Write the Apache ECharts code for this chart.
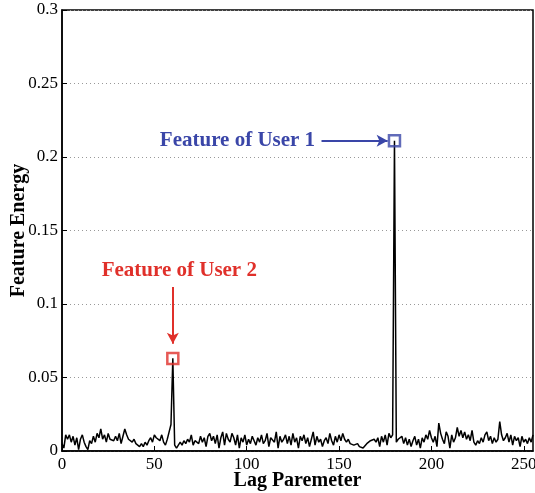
<!DOCTYPE html>
<html>
<head>
<meta charset="utf-8">
<script src="https://cdn.jsdelivr.net/npm/echarts@6/dist/echarts.min.js"></script>
<style>
  html, body { margin: 0; padding: 0; background: #fff; }
  #chart { width: 535px; height: 493px; }
</style>
</head>
<body>
<div id="chart"></div>
<script>
// feature energy per lag (lag 0..255)
const energy = [
  0.005, 0.002, 0.011, 0.008, 0.011, 0.006, 0.010, 0.004, 0.009, 0.001,
  0.008, 0.011, 0.006, 0.003, 0.001, 0.007, 0.005, 0.010, 0.006, 0.012,
  0.009, 0.015, 0.008, 0.011, 0.006, 0.012, 0.008, 0.009, 0.007, 0.010,
  0.007, 0.012, 0.005, 0.010, 0.015, 0.011, 0.008, 0.009, 0.006, 0.008,
  0.005, 0.004, 0.003, 0.005, 0.003, 0.006, 0.004, 0.007, 0.009, 0.006,
  0.011, 0.009, 0.010, 0.007, 0.011, 0.006, 0.004, 0.008, 0.013, 0.018,
  0.063, 0.004, 0.002, 0.004, 0.006, 0.004, 0.007, 0.005, 0.008, 0.006,
  0.011, 0.004, 0.007, 0.008, 0.005, 0.010, 0.006, 0.009, 0.003, 0.010,
  0.012, 0.007, 0.010, 0.005, 0.011, 0.002, 0.009, 0.013, 0.004, 0.012,
  0.008, 0.006, 0.012, 0.009, 0.004, 0.011, 0.002, 0.009, 0.006, 0.011,
  0.004, 0.008, 0.005, 0.010, 0.007, 0.004, 0.009, 0.006, 0.011, 0.005,
  0.007, 0.012, 0.003, 0.009, 0.010, 0.006, 0.013, 0.002, 0.010, 0.006,
  0.008, 0.011, 0.005, 0.010, 0.004, 0.012, 0.006, 0.009, 0.002, 0.010,
  0.007, 0.011, 0.005, 0.009, 0.003, 0.008, 0.013, 0.004, 0.010, 0.006,
  0.008, 0.003, 0.007, 0.009, 0.005, 0.012, 0.007, 0.004, 0.010, 0.006,
  0.011, 0.007, 0.012, 0.008, 0.006, 0.008, 0.005, 0.006, 0.004, 0.004,
  0.005, 0.003, 0.004, 0.002, 0.001, 0.005, 0.006, 0.007, 0.006, 0.008,
  0.006, 0.009, 0.003, 0.010, 0.006, 0.011, 0.004, 0.012, 0.009, 0.011,
  0.211, 0.006, 0.008, 0.007, 0.010, 0.005, 0.009, 0.004, 0.008, 0.003,
  0.007, 0.010, 0.004, 0.008, 0.002, 0.009, 0.006, 0.011, 0.008, 0.014,
  0.009, 0.006, 0.010, 0.003, 0.019, 0.012, 0.008, 0.005, 0.013, 0.010,
  0.002, 0.011, 0.006, 0.009, 0.016, 0.010, 0.014, 0.009, 0.013, 0.008,
  0.011, 0.007, 0.014, 0.006, 0.004, 0.007, 0.005, 0.009, 0.006, 0.011,
  0.013, 0.007, 0.010, 0.005, 0.009, 0.006, 0.008, 0.020, 0.011, 0.007,
  0.009, 0.012, 0.006, 0.011, 0.004, 0.010, 0.007, 0.009, 0.003, 0.010,
  0.006, 0.008, 0.005, 0.009, 0.006, 0.011
];
const lags = energy.map((v, i) => i);

// the two user features (lag, energy)
const user1 = [180, 0.211];
const user2 = [60, 0.063];

const xTicks = [0, 50, 100, 150, 200, 250];
const yTicks = [0, 0.05, 0.1, 0.15, 0.2, 0.25, 0.3];

const blue = '#3a46a8';
const red = '#e0302a';
const serif = '"Liberation Serif", "Times New Roman", serif';

let chart = echarts.init(document.getElementById('chart'));
chart.setOption({
    animation: false,
    grid: {
        left: 62, right: 2, top: 10, bottom: 42,
        outerBoundsMode: 'none', containLabel: false,
        show: true, borderColor: '#000', borderWidth: 1.5
    },
    xAxis: {
        type: 'value', min: 0, max: 255, interval: 50,
        name: 'Lag Paremeter', nameLocation: 'middle', nameGap: 20,
        nameMoveOverlap: false,
        nameTextStyle: { fontFamily: serif, fontWeight: 'bold', fontSize: 20, color: '#000', verticalAlign: 'top' },
        axisLine: { lineStyle: { color: '#000', width: 1.5 } },
        axisTick: { inside: true, length: 5, lineStyle: { color: '#000' } },
        axisLabel: {
            fontFamily: serif, fontSize: 17, color: '#000', margin: 5,
            hideOverlap: false, showMaxLabel: false,
            formatter: v => xTicks.includes(v) ? String(v) : ''
        },
        splitLine: { show: false }
    },
    yAxis: {
        type: 'value', min: 0, max: 0.3, interval: 0.05,
        name: 'Feature Energy', nameLocation: 'middle', nameGap: 33,
        nameMoveOverlap: false,
        nameTextStyle: { fontFamily: serif, fontWeight: 'bold', fontSize: 20, color: '#000' },
        axisLine: { lineStyle: { color: '#000', width: 1.5 } },
        axisTick: { inside: true, length: 5, lineStyle: { color: '#000' } },
        axisLabel: {
            fontFamily: serif, fontSize: 17, color: '#000', margin: 4,
            formatter: v => {
                const t = yTicks.find(y => Math.abs(y - v) < 1e-9);
                return t === undefined ? '' : String(+t.toFixed(2));
            }
        },
        splitLine: { show: true, lineStyle: { color: '#999', type: [1, 3], width: 1 } }
    },
    series: [
        {
            type: 'line',
            data: lags.map((x, i) => [x, energy[i]]),
            showSymbol: false,
            lineStyle: { color: '#000', width: 1.5 },
            markLine: {
                silent: true,
                symbol: ['none', 'arrow'],
                symbolSize: [9, 11],
                label: { show: false },
                data: [
                    [{ coord: [140.5, user1[1]], lineStyle: { color: blue, width: 2, type: 'solid' }, itemStyle: { color: blue } },
                     { coord: [176.3, user1[1]] }],
                    [{ coord: [user2[0], 0.1115], lineStyle: { color: red, width: 2, type: 'solid' }, itemStyle: { color: red } },
                     { coord: [user2[0], 0.073] }]
                ]
            },
            markPoint: {
                silent: true,
                symbol: 'rect',
                symbolSize: 0.1,
                itemStyle: { color: 'transparent' },
                data: [
                    { coord: [95, user1[1]], label: { show: true, formatter: 'Feature of User 1', color: blue, fontFamily: serif, fontWeight: 'bold', fontSize: 21, position: 'inside' } },
                    { coord: [63.5, 0.1224], label: { show: true, formatter: 'Feature of User 2', color: red, fontFamily: serif, fontWeight: 'bold', fontSize: 21, position: 'inside' } }
                ]
            },
            z: 3
        },
        {
            type: 'scatter',
            data: [
                { value: user1, itemStyle: { borderColor: blue } },
                { value: user2, itemStyle: { borderColor: red } }
            ],
            symbol: 'rect',
            symbolSize: 11,
            itemStyle: { color: 'rgba(0,0,0,0)', borderWidth: 2.5 },
            z: 4
        }
    ]
});
</script>
</body>
</html>
